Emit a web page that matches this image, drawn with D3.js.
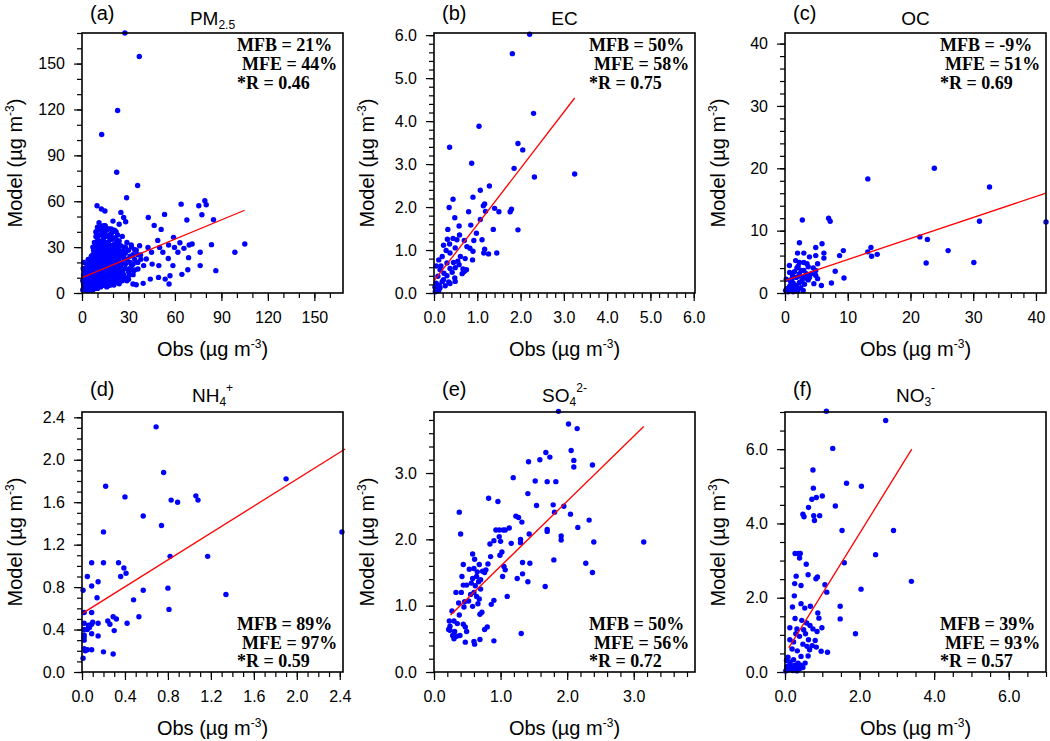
<!DOCTYPE html>
<html>
<head>
<meta charset="utf-8">
<script src="https://cdn.jsdelivr.net/npm/d3@7"></script>
<style>
  body { margin: 0; background: #fff; }
  text { font-family: "Liberation Sans", Arial, Helvetica, sans-serif; fill: #000; }
  .tick text { font-size: 15px; }
</style>
</head>
<body>
<svg id="chart" width="1050" height="741"></svg>
<script>
/////////////////////////// Data ///////////////////////////

// (a) PM2.5, [obs, model]
const pmPoints = [
  [27.7,170],[37.0,154.6],[23.0,119.3],[12.7,103.6],[22.4,79.0],[35.9,70.3],[28.8,62.3],
  [9.7,57.0],[12.5,54.9],[14.8,53.6],[25.1,52.7],[26.9,49.4],[28.2,46.6],[42.8,49.4],
  [53.3,51.4],[64.0,58.1],[75.4,57.0],[79.3,60.3],[80.2,57.7],[77.4,51.2],[67.7,47.7],
  [84.9,47.9],[46.6,44.2],[51.1,41.6],[48.9,34.4],[59.1,36.4],[63.2,32.9],[69.2,31.4],
  [83.6,31.6],[98.7,26.6],[105.1,32.0],[76.3,26.6],[68.8,23.1],[76.3,17.9],[86.4,14.6],
  [68.3,15.2],[64.5,12.2],[58.7,17.9],[56.8,11.3],[56.2,5.9],[53.7,9.1],[49.4,10.2],
  [44.1,9.1],[39.5,6.3],[35.0,5.4],[32.9,5.9],[20.6,5.2],[55.7,22.6],[52.2,26.6],
  [44.9,26.6],[41.5,22.2],[37.8,24.8],[39.8,17.9],[36.1,15.7],[33.3,14.6],[30.7,11.8],
  [45.3,18.9],[49.6,17.9],[61.9,26.6],[50.1,29.8],[31.8,31.4],[34.0,28.3],[37.2,30.9],
  [42.6,29.8],[59.7,29.8],[65.8,29.2],[71.1,32.0],[55.9,31.4],
  [1,3],[1.5,5],[2,4],[2,7],[2.5,9],[3,3],[3,6],[3,11],[3.5,8],[4,4],[4,13],[4,15],
  [4.5,6],[5,9],[5,12],[5,18],[5.5,3],[5.5,22],[6,5],[6,7],[6,14],[6,20],[6.5,10],
  [6.5,16],[7,4],[7,8],[7,12],[7,25],[7.5,18],[7.5,28],[8,6],[8,10],[8,15],[8,21],
  [8,33],[8.5,13],[8.5,24],[9,5],[9,9],[9,17],[9,27],[9,40],[9.5,12],[9.5,20],[10,7],
  [10,14],[10,22],[10,30],[10,36],[10.5,11],[10.5,18],[11,5],[11,9],[11,16],[11,25],
  [11,34],[11,46],[11.5,13],[11.5,20],[11.5,29],[12,7],[12,11],[12,18],[12,23],[12,38],
  [12.5,15],[12.5,27],[12.5,32],[13,6],[13,9],[13,14],[13,21],[13,42],[13.5,17],
  [13.5,25],[13.5,31],[14,8],[14,12],[14,19],[14,28],[14,36],[14.5,15],[14.5,23],
  [14.5,40],[15,6],[15,10],[15,17],[15,26],[15,33],[15,44],[15.5,13],[15.5,21],
  [15.5,30],[16,8],[16,15],[16,24],[16,37],[16.5,11],[16.5,19],[16.5,28],[17,7],
  [17,13],[17,22],[17,33],[17,42],[17.5,17],[17.5,26],[18,9],[18,15],[18,20],[18,30],
  [18,38],[18.5,12],[18.5,24],[19,7],[19,18],[19,27],[19,35],[19.5,14],[19.5,22],
  [20,10],[20,16],[20,25],[20,31],[20,47],[20.5,20],[21,8],[21,13],[21,28],[21,36],
  [21.5,18],[21.5,24],[22,11],[22,22],[22,30],[22,40],[22.5,15],[23,9],[23,19],[23,26],
  [23,33],[24,13],[24,21],[24,28],[24,45],[25,10],[25,17],[25,24],[25,31],[26,14],
  [26,20],[26,27],[26,37],[27,12],[27,23],[27,30],[28,16],[28,19],[28,26],[29,8],
  [29,22],[29,33],[30,14],[30,28],[31,20],[31,24],[32,18],[32,30],[33,12],[33,25],
  [34,22],[35,28],[36,20],[0.5,2],[0.5,8],[1,12],[0.8,16],[1.2,20],[2,14],[3,17],
  [4,22],[2,2],[3,2],[5,2],[7,2],[9,3],[6,3],[4,2],[9.2,39.6],[11.4,44],[18.9,41.8],
  [1.5,10],[2.5,12],[3.5,14],[4.5,10],[5.5,8],[6.5,12],[7.5,6],[8.5,9],[9.5,7],[10.5,14],
  [11.5,8],[12.5,10],[13.5,12],[14.5,10],[15.5,8],[16.5,14],[17.5,10],[18.5,8],[19.5,11],
  [20.5,13],[21.5,10],[22.5,12],[23.5,15],[24.5,18],[25.5,13],[2.5,16],[3.5,19],[4.5,17],
  [5.5,15],[6.5,19],[7.5,22],[8.5,18],[9.5,24],[10.5,26],[11.5,23],[12.5,20],[13.5,22],
  [14.5,18],[15.5,24],[16.5,22],[17.5,20],[18.5,17],[19.5,25],[20.5,22],[21.5,21],
  [22.5,25],[23.5,22],[24.5,24],[25.5,20],[26.5,24],[6,24],[7,30],[8,27],[9,31],[10,33],
  [11,28],[12,31],[13,34],[14,32],[15,29],[16,31],[17,29],[18,27],[19,31],[20,28],[21,32],
  [22,27],[23,30],[24,34],[25,27],[27,27],[28,30],[9,37],[10,43],[12,41],[13,38],[14,44],
  [15,38],[16,41],[17,37],[18,35],[19,39],[20,36],[21,41],[22,35],[23,38],[1,6],[2,9],
  [1,9],[2.5,5],[3.5,5],[4.5,3],[6.5,2],[8,3],[10,3],[12,4],[14,5],[16,4],[18,5],[20,6],
  [22,7],[24,6],[26,8],[28,10],[30,9],[31,16],[33,19],[34,15],[36,25],[38,22]
];

// (b) EC
const ecPoints = [
  [2.21,6.02],[1.81,5.57],[2.30,4.18],[1.04,3.88],[0.36,3.39],[1.94,3.48],[2.05,3.33],
  [0.87,3.02],[1.85,2.90],[2.32,2.70],[3.25,2.77],[1.28,2.49],[1.07,2.39],[0.90,2.23],
  [0.44,2.18],[1.17,2.07],[1.14,2.03],[0.35,1.99],[1.40,1.97],[1.79,1.95],[1.76,1.89],
  [1.50,1.89],[0.80,1.89],[1.19,1.90],[0.48,1.75],[0.85,1.58],[0.58,1.56],[1.07,1.71],
  [0.32,1.48],[1.37,1.48],[1.94,1.47],[0.98,1.39],[0.59,1.35],[0.44,1.27],[0.31,1.25],
  [0.53,1.24],[0.36,1.14],[0.70,1.22],[0.92,1.22],[1.11,1.24],[0.22,1.11],[0.49,1.05],
  [0.76,1.08],[0.83,1.04],[0.90,0.97],[1.17,1.02],[1.15,0.93],[1.26,0.91],[1.45,0.93],
  [0.28,0.99],[0.37,0.93],[0.19,0.85],[0.61,0.85],[0.72,0.80],[0.55,0.74],[0.89,0.77],
  [0.11,0.77],[0.05,0.63],[0.16,0.63],[0.30,0.70],[0.45,0.71],[0.58,0.66],[0.14,0.54],
  [0.37,0.57],[0.49,0.59],[0.67,0.56],[0.75,0.54],[0.23,0.46],[0.42,0.48],[0.65,0.45],
  [0.70,0.50],[0.09,0.39],[0.30,0.40],[0.48,0.35],[0.49,0.27],[0.19,0.27],[0.05,0.23],
  [0.12,0.19],[0.22,0.31],[0.34,0.26],[0.02,0.14],[0.06,0.08],[0.11,0.06],[0.03,0.03],
  [0.14,0.12],[0.26,0.17],[0.37,0.22]
];

// (c) OC
const ocPoints = [
  [23.8,20.0],[13.2,18.3],[32.6,17.0],[2.76,11.7],[6.95,12.0],[7.2,11.5],[31.0,11.5],
  [41.6,11.4],[21.5,9.0],[22.7,8.6],[2.3,8.05],[5.9,7.9],[4.9,7.3],[13.7,7.3],[9.3,6.8],
  [13.2,6.6],[26.0,6.8],[2.0,6.4],[3.0,6.4],[6.2,6.4],[8.7,6.0],[4.9,6.0],[13.8,5.9],
  [14.7,6.2],[3.9,5.8],[6.2,5.6],[1.7,5.2],[2.3,4.9],[22.5,4.8],[30.1,4.9],[3.0,4.9],
  [3.5,4.7],[0.7,4.4],[2.1,4.3],[3.7,4.2],[4.5,4.0],[4.9,3.6],[8.0,3.5],[3.0,3.6],
  [0.74,3.3],[1.5,3.4],[2.3,3.1],[3.4,3.1],[4.2,3.1],[4.9,2.8],[2.9,2.6],[1.8,2.5],
  [9.4,2.4],[1.06,2.2],[0.2,2.2],[3.7,2.1],[4.6,1.5],[7.4,1.6],[5.8,1.2],[2.3,1.7],
  [3.1,1.4],[1.3,1.6],[1.8,1.2],[0.74,1.1],[0.3,0.7],[1.0,0.5],[1.7,0.7],[2.5,0.85],
  [2.9,0.4],[0.5,0.2],[1.3,0.2],[0.1,0.4],[2.0,0.3],[3.9,2.5],[5.2,4.7],[5.2,2.3],
  [1.2,2.8],[2.6,3.6],[1.9,4.0],[2.7,2.0],[1.4,1.0],[3.3,2.4],[0.9,1.8],[2.2,2.7]
];

// (d) NH4+
const nhPoints = [
  [0.69,2.31],[0.76,1.88],[1.90,1.82],[0.22,1.75],[1.06,1.66],[0.40,1.65],[1.08,1.62],
  [0.83,1.62],[0.89,1.60],[0.57,1.47],[0.74,1.38],[2.42,1.32],[0.20,1.32],[0.82,1.09],
  [1.17,1.09],[0.09,1.03],[0.20,1.03],[0.34,1.03],[0.39,0.98],[0.41,0.93],[0.05,0.90],
  [0.36,0.90],[0.15,0.85],[0.09,0.81],[0.80,0.79],[0.01,0.77],[0.57,0.77],[1.34,0.73],
  [0.14,0.70],[0.48,0.68],[0.81,0.59],[0.02,0.56],[0.09,0.56],[0.29,0.52],[0.32,0.50],
  [0.53,0.52],[0.24,0.48],[0.26,0.45],[0.42,0.46],[0.15,0.46],[0.02,0.46],[0.10,0.47],
  [0.07,0.42],[0.09,0.45],[0.05,0.40],[0.02,0.40],[0.30,0.39],[0.09,0.36],[0.02,0.35],
  [0.15,0.34],[0.02,0.30],[0.02,0.22],[0.05,0.21],[0.09,0.21],[0.03,0.20],[0.20,0.19],
  [0.29,0.17],[0.01,0.13],[0.02,0.33],[0.06,0.44]
];

// (e) SO4 2-
const soPoints = [
  [1.87,3.93],[2.02,3.74],[2.15,3.67],[1.68,3.31],[2.06,3.34],[1.59,3.20],[1.74,3.24],
  [1.42,3.17],[2.10,3.19],[2.10,3.09],[2.38,3.12],[1.19,2.93],[1.52,2.88],[1.70,2.87],
  [1.83,2.87],[0.82,2.62],[0.96,2.57],[1.41,2.69],[1.54,2.51],[1.79,2.52],[1.95,2.50],
  [1.81,2.41],[0.38,2.41],[1.23,2.35],[1.27,2.33],[2.05,2.38],[2.33,2.29],[1.32,2.26],
  [0.40,2.08],[0.98,2.14],[0.93,2.14],[1.04,2.14],[1.13,2.17],[1.07,2.14],[1.70,2.15],
  [1.70,2.12],[1.43,2.08],[2.16,2.18],[1.91,2.05],[1.91,1.99],[2.40,1.96],[3.15,1.96],
  [0.98,2.04],[0.90,1.98],[1.00,1.97],[1.16,1.94],[0.84,1.93],[1.30,1.95],[1.30,2.00],
  [1.02,1.81],[0.99,1.76],[0.85,1.74],[0.58,1.78],[0.61,1.70],[1.44,1.64],[1.33,1.65],
  [1.80,1.69],[2.28,1.64],[0.44,1.62],[0.68,1.62],[0.81,1.63],[1.05,1.59],[1.07,1.54],
  [0.53,1.55],[0.60,1.56],[0.73,1.52],[0.78,1.54],[0.65,1.51],[0.76,1.50],[2.38,1.50],
  [1.33,1.48],[0.42,1.44],[0.64,1.44],[1.03,1.44],[1.25,1.41],[0.58,1.41],[0.67,1.36],
  [0.70,1.39],[1.41,1.36],[0.56,1.34],[0.62,1.30],[0.49,1.31],[0.44,1.31],[1.67,1.29],
  [0.70,1.25],[0.60,1.20],[0.33,1.20],[0.41,1.20],[0.64,1.14],[1.10,1.14],[0.55,1.17],
  [0.68,1.10],[0.90,1.08],[0.46,1.06],[0.37,1.04],[0.52,1.07],[0.66,1.03],[0.86,1.02],
  [0.45,0.98],[0.58,0.99],[0.72,0.90],[0.69,0.87],[0.27,0.92],[0.38,0.86],[0.23,0.77],
  [0.30,0.77],[0.35,0.73],[0.24,0.69],[0.44,0.72],[0.47,0.68],[0.80,0.68],[0.76,0.64],
  [0.24,0.63],[0.31,0.61],[0.22,0.64],[0.28,0.55],[0.34,0.54],[0.39,0.55],[0.49,0.61],
  [0.30,0.50],[0.69,0.49],[0.60,0.46],[0.90,0.47],[0.47,0.45],[0.61,0.42],[1.31,0.58]
];

// (f) NO3-
const noPoints = [
  [1.11,7.02],[2.70,6.77],[1.28,6.02],[0.75,5.44],[1.65,5.08],[2.05,5.00],[0.76,4.95],
  [1.00,4.74],[0.84,4.70],[0.72,4.65],[0.63,4.43],[1.35,4.47],[0.48,4.25],[0.51,4.18],
  [0.77,4.21],[0.93,4.21],[0.79,4.08],[1.53,3.81],[2.91,3.81],[0.27,3.19],[0.36,3.19],
  [0.41,3.19],[0.39,3.07],[2.43,3.16],[0.57,2.90],[1.59,2.94],[0.62,2.62],[0.87,2.56],
  [0.83,2.51],[0.30,2.58],[0.26,2.38],[0.43,2.33],[1.07,2.35],[3.39,2.44],[2.04,2.23],
  [1.12,2.15],[0.25,2.05],[0.43,1.84],[0.20,1.75],[0.53,1.72],[0.68,1.77],[1.48,1.77],
  [0.88,1.59],[0.91,1.45],[1.48,1.43],[0.27,1.44],[0.45,1.39],[0.58,1.32],[0.67,1.25],
  [0.13,1.19],[0.99,1.19],[0.32,1.16],[0.50,1.14],[0.75,1.16],[0.86,1.09],[0.29,1.03],
  [0.39,0.96],[0.55,1.03],[1.89,1.03],[0.63,0.87],[0.81,0.85],[0.97,0.56],[1.14,0.53],
  [0.13,0.87],[0.23,0.81],[0.59,0.69],[0.73,0.71],[0.84,0.67],[0.66,0.60],[0.48,0.75],
  [0.33,0.57],[0.19,0.62],[0.62,0.43],[0.43,0.42],[0.54,0.24],[0.08,0.40],[0.13,0.27],
  [0.23,0.33],[0.35,0.24],[0.05,0.15],[0.17,0.11],[0.29,0.13],[0.39,0.09],[0.48,0.12],
  [0.09,0.06],[0.21,0.04],[0.32,0.03],[0.02,0.03],[0.14,0.21],[0.27,0.18],[0.42,0.18],
  [0.04,0.31]
];

// Regression lines: [x start, x end], intercept, slope
const fitRange = [[0, 105], [0, 3.25], [0, 41.6], [0, 2.45], [0.25, 3.15], [0.1, 3.4]];
const fitIntercept = [10, 0.28, 2.0, 0.55, 0.615, 0.49];
const fitSlope = [0.42, 1.31, 0.337, 0.633, 0.98, 1.62];

// Stats text
const statMFB = ["21%", "50%", "-9%", "89%", "50%", "39%"];
const statMFE = ["44%", "58%", "51%", "97%", "56%", "93%"];
const statR = ["0.46", "0.75", "0.69", "0.59", "0.72", "0.57"];

// Axes
const panelLabels = ["(a)", "(b)", "(c)", "(d)", "(e)", "(f)"];
const axisMax = [168.5, 6.03, 41.6, 2.43, 3.92, 7.0];
const yAxisMax = [170, 6.05, 41.7, 2.45, 3.92, 7.0];
const majorStep = [30, 1, 10, 0.4, 1, 2];
const minorStep = [10, 0.2, 2, 0.1, 0.2, 0.5];
const tickFmt = ["d", ".1f", "d", ".1f", ".1f", ".1f"];

const allPoints = [pmPoints, ecPoints, ocPoints, nhPoints, soPoints, noPoints];

/////////////////////////// Drawing ///////////////////////////

const svg = d3.select('#chart');
const panelW = 261, panelH = 260;
const lefts = [82, 434, 785];
const tops = [33, 412];
const serif = '"Liberation Serif", "Times New Roman", Times, serif';

// title pieces: [main, sub, sup]
const titleParts = [["PM", "2.5", ""], ["EC", "", ""], ["OC", "", ""],
                    ["NH", "4", "+"], ["SO", "4", "2-"], ["NO", "3", "-"]];

function addUnit(textSel, prefix) {
  textSel.append('tspan').text(prefix + " (\u00b5g m");
  textSel.append('tspan').attr('font-size', 12).attr('baseline-shift', '8').text("-3");
  textSel.append('tspan').text(")");
}

allPoints.forEach((pts, i) => {
  const row = Math.floor(i / 3);
  const g = svg.append('g')
    .attr('transform', `translate(${lefts[i % 3]},${tops[row]})`);

  const x = d3.scaleLinear().domain([0, axisMax[i]]).range([0, panelW]);
  const y = d3.scaleLinear().domain([0, yAxisMax[i]]).range([panelH, 0]);

  const eps = 1e-6;
  const xMinor = d3.range(0, axisMax[i] + eps, minorStep[i]);
  const yMinor = d3.range(0, yAxisMax[i] + eps, minorStep[i]);
  const xMajor = d3.range(0, axisMax[i] + eps, majorStep[i]);
  const yMajor = d3.range(0, yAxisMax[i] + eps, majorStep[i]);

  //_________________ Ticks
  g.append('g').attr('transform', `translate(0,${panelH})`)
    .call(d3.axisBottom(x).tickValues(xMinor).tickSize(5).tickFormat(""));
  g.append('g')
    .call(d3.axisLeft(y).tickValues(yMinor).tickSize(5).tickFormat(""));
  g.append('g').attr('transform', `translate(0,${panelH})`)
    .call(d3.axisBottom(x).tickValues(xMajor).tickSize(8).tickPadding(11).tickFormat(d3.format(tickFmt[i])));
  g.append('g')
    .call(d3.axisLeft(y).tickValues(yMajor).tickSize(8).tickPadding(9).tickFormat(d3.format(tickFmt[i])));
  g.selectAll('.domain').remove();
  g.selectAll('.tick line').attr('stroke', '#000').attr('stroke-width', 1.2);
  g.selectAll('.tick text').attr('fill', '#000')
    .style('font-family', '"Liberation Sans", Arial, sans-serif')
    .style('font-size', '16px');

  //_________________ Points
  g.selectAll('circle').data(pts).enter().append('circle')
    .attr('cx', d => x(d[0]))
    .attr('cy', d => y(d[1]))
    .attr('r', 2.7)
    .attr('fill', '#0000ff');

  //_________________ Fit line
  const fx = fitRange[i];
  g.append('line')
    .attr('x1', x(fx[0])).attr('y1', y(fitIntercept[i] + fitSlope[i] * fx[0]))
    .attr('x2', x(fx[1])).attr('y2', y(fitIntercept[i] + fitSlope[i] * fx[1]))
    .attr('stroke', '#ff0000').attr('stroke-width', 1.3);

  //_________________ Frame
  g.append('rect').attr('width', panelW).attr('height', panelH)
    .attr('fill', 'none').attr('stroke', '#000').attr('stroke-width', 1.6);

  //_________________ Stats
  const sx = panelW - 106;
  const sy = row === 0 ? [18, 37, 56] : [panelH - 42, panelH - 23, panelH - 5];
  const stats = ["MFB = " + statMFB[i], "MFE = " + statMFE[i], "*R = " + statR[i]];
  stats.forEach((s, k) => {
    g.append('text')
      .attr('x', k === 1 ? sx + 5 : sx).attr('y', sy[k])
      .style('font-family', serif).style('font-weight', 'bold').style('font-size', '18px')
      .text(s);
  });

  //_________________ Labels
  g.append('text').attr('x', 8).attr('y', row === 0 ? -13 : -16)
    .attr('font-size', 20).text(panelLabels[i]);

  const tp = titleParts[i];
  const title = g.append('text').attr('x', panelW / 2).attr('y', row === 0 ? -8 : -10)
    .attr('text-anchor', 'middle').attr('font-size', 19);
  title.append('tspan').text(tp[0]);
  if (tp[1]) title.append('tspan').attr('font-size', 12).attr('baseline-shift', '-4').text(tp[1]);
  if (tp[2]) title.append('tspan').attr('font-size', 12).attr('baseline-shift', '10').text(tp[2]);

  const xt = g.append('text').attr('x', panelW / 2).attr('y', panelH + 63)
    .attr('text-anchor', 'middle').attr('font-size', 20);
  addUnit(xt, "Obs");

  const yt = g.append('text')
    .attr('transform', `translate(${-60},${panelH / 2}) rotate(-90)`)
    .attr('text-anchor', 'middle').attr('font-size', 20);
  addUnit(yt, "Model");
});
</script>
</body>
</html>
